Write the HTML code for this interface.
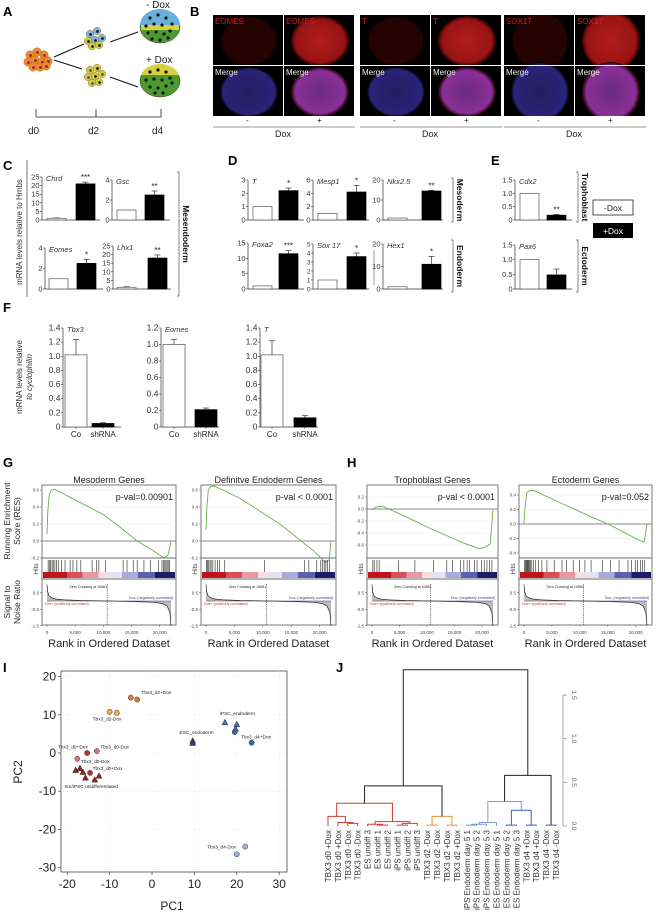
<!DOCTYPE html>
<html><head><meta charset="utf-8">
<style>
html,body{margin:0;padding:0;background:#fff;}
svg{display:block;font-family:"Liberation Sans",Arial,sans-serif;}
</style></head>
<body>
<svg id="fig" width="656" height="915" viewBox="0 0 656 915" xmlns="http://www.w3.org/2000/svg">
<defs>
<linearGradient id="rankbar" x1="0" x2="1" y1="0" y2="0">
<stop offset="0" stop-color="#c0141c"/><stop offset="0.18" stop-color="#c0141c"/>
<stop offset="0.18" stop-color="#d8505a"/><stop offset="0.3" stop-color="#d8505a"/>
<stop offset="0.3" stop-color="#e89aa0"/><stop offset="0.42" stop-color="#e89aa0"/>
<stop offset="0.42" stop-color="#f6dde0"/><stop offset="0.5" stop-color="#f6dde0"/>
<stop offset="0.5" stop-color="#e2e2f4"/><stop offset="0.6" stop-color="#e2e2f4"/>
<stop offset="0.6" stop-color="#a8acdc"/><stop offset="0.72" stop-color="#a8acdc"/>
<stop offset="0.72" stop-color="#5a62b0"/><stop offset="0.85" stop-color="#5a62b0"/>
<stop offset="0.85" stop-color="#1c1c68"/><stop offset="1" stop-color="#1c1c68"/>
</linearGradient>
<radialGradient id="redDim"><stop offset="0" stop-color="#2a0404"/><stop offset="0.9" stop-color="#240303"/><stop offset="1" stop-color="#000"/></radialGradient>
<radialGradient id="redBright"><stop offset="0" stop-color="#b01c1c"/><stop offset="0.85" stop-color="#981414"/><stop offset="1" stop-color="#300"/></radialGradient>
<radialGradient id="blueDim"><stop offset="0" stop-color="#221e60"/><stop offset="0.9" stop-color="#2a2278"/><stop offset="1" stop-color="#000"/></radialGradient>
<radialGradient id="purple"><stop offset="0" stop-color="#6a2a80"/><stop offset="0.85" stop-color="#8a3098"/><stop offset="1" stop-color="#200"/></radialGradient>
</defs>
</svg>
<script>
// ---------------- DATA ----------------
const chrdVals=[1,21], chrdErr=[1.2,22];
const gscVals=[1,2.5], gscErr=[1,2.9];
const eomesCVals=[1,2.5], eomesCErr=[1,2.9];
const lhx1Vals=[1,18], lhx1Err=[1.3,19.8];
const tDVals=[1,2.2], tDErr=[1,2.4];
const mesp1Vals=[1,4.2], mesp1Err=[1,5.2];
const nkxVals=[1,14.5], nkxErr=[1,14.8];
const foxa2Vals=[1,11.5], foxa2Err=[1,12.5];
const sox17Vals=[1,3.6], sox17Err=[1,4.0];
const hex1Vals=[1,11], hex1Err=[1,14.5];
const cdx2Vals=[1,0.18], cdx2Err=[1,0.21];
const pax6Vals=[1,0.48], pax6Err=[1,0.68];
const fCats=["Co","shRNA"];
const tbx3FVals=[1.02,0.05], tbx3FErr=[1.24,0.06];
const eomesFVals=[1.0,0.21], eomesFErr=[1.06,0.23];
const tFVals=[1.02,0.13], tFErr=[1.22,0.16];
const mesoRank=[0,150,400,800,1300,2500,6000,10000,13000,16000,18500,20800,21500,22000];
const mesoES=[0.08,0.35,0.55,0.6,0.61,0.57,0.45,0.31,0.16,0.0,-0.1,-0.2,-0.16,0.0];
const endoRank=[0,150,400,800,1300,3000,6000,10000,13000,16000,19000,21000,21700,22000];
const endoES=[0.13,0.4,0.6,0.64,0.65,0.6,0.5,0.33,0.2,0.04,-0.12,-0.25,-0.22,0.0];
const trophRank=[0,500,1200,1900,3000,6000,10000,14000,17000,19500,20500,21500,22000];
const trophES=[-0.02,0.02,0.04,0.045,0.0,-0.12,-0.3,-0.46,-0.58,-0.66,-0.64,-0.58,0.0];
const ectoRank=[0,150,500,1000,1800,4000,8000,12000,15000,18000,20500,21500,22000];
const ectoES=[0.0,0.2,0.43,0.46,0.46,0.38,0.24,0.1,0.0,-0.12,-0.22,-0.25,0.0];
const mesoHits=[200,400,600,900,1100,1400,1700,2000,2600,3200,4100,4600,5300,6000,8000,8800,9200,10400,13500,14200,15300,16000,17200,18400,19800,20400,20700,20900,21100,21300,21500,21700];
const endoHits=[100,250,400,700,900,1200,1600,2000,2400,3300,10300,17300,18100,19500,20200,20500,20800,21100,21400,21700];
const trophHits=[150,400,900,1300,4800,7800,11200,13600,14600,16100,16700,17300,17700,18600,19100,19900,20400,20900,21400,21800];
const ectoHits=[100,250,400,550,700,850,1000,1200,1400,1700,2100,2600,3200,4100,5400,6800,7600,8800,9900,10900,12000,14000,15500,17000,18600,19200,19900,20300,20800,21200,21600];
const sigRank=[0,100,300,800,1500,3000,6000,10681,15000,19000,20500,21300,21800,22000];
const sigVal=[1.0,0.6,0.35,0.2,0.12,0.07,0.03,0,-0.03,-0.08,-0.15,-0.3,-0.7,-1.5];
const pcaGroups=["d2+Dox","d2-Dox","iPSC_endo","ESC_endo","d4+Dox","d4-Dox","d0+Dox","d0-Dox","undiff"];
const pcaPC1=[[-5,-3.5],[-10,-8.3],[17.2,20,19.7],[9.6,9.6],[19.5,23.5],[22,20],[-15.3,-14.6],[-13,-17.6],[-18,-17,-16.3,-15.7,-13.5,-12.5]];
const pcaPC2=[[14.5,14],[10.8,10.5],[8,7.5,6.3],[3.2,2.6],[5.5,2.7],[-24.5,-26.5],[0,-5.2],[0.5,-1.5],[-4.5,-4,-5,-6.5,-7,-6]];
const pcaTicksX=[-20,-10,0,10,20,30];
const pcaTicksY=[20,10,0,-10,-20,-30];
const leafLabels=["TBX3 d0 +Dox","TBX3 d0 +Dox","TBX3 d0 -Dox","TBX3 d0 -Dox","ES undiff 3","ES undiff 1","ES undiff 2","iPS undiff 1","iPS undiff 2","iPS undiff 3","TBX3 d2 -Dox","TBX3 d2 -Dox","TBX3 d2 +Dox","TBX3 d2 +Dox","iPS Endoderm day 5 1","iPS Endoderm day 5 2","iPS Endoderm day 5 3","ES Endoderm day 5 1","ES Endoderm day 5 2","ES Endoderm day 5 3","TBX3 d4 +Dox","TBX3 d4 +Dox","TBX3 d4 -Dox","TBX3 d4 -Dox"];
// merges: negative = leaf -(i+1), non-negative = earlier merge id
const mergeLeft=[-3,-2,-1,-6,-5,-8,5,4,2,-11,-13,9,8,-15,13,14,-19,-21,16,15,-23,19,12];
const mergeRight=[-4,0,1,-7,3,-9,-10,6,7,-12,-14,10,11,-16,-17,-18,-20,-22,17,18,-24,20,21];
const mergeH=[0.03,0.04,0.11,0.01,0.02,0.01,0.03,0.05,0.26,0.01,0.01,0.11,0.46,0.01,0.02,0.04,0.01,0.01,0.18,0.28,0.01,0.58,1.79];
const mergeColor=["#d03a30","#d03a30","#d03a30","#d03a30","#d03a30","#d03a30","#d03a30","#d03a30","#d03a30","#e8903a","#e8903a","#e8903a","#222","#7b9bd6","#7b9bd6","#7b9bd6","#3a5fcd","#3a5fcd","#3a5fcd","#7b9bd6","#3a5fcd","#222","#222"];
const jTicks=[0,0.5,1.0,1.5];

// ---------------- HELPERS ----------------
const NS="http://www.w3.org/2000/svg";
const svg=document.getElementById("fig");
function mk(tag,a,name,parent){
  const el=document.createElementNS(NS,tag);
  for(const k in a) el.setAttribute(k,a[k]);
  
  
  (parent||svg).appendChild(el);
  return el;
}
function txt(x,y,s,size,name,extra){
  const a=Object.assign({x:x,y:y,"font-size":size,fill:"#222"},extra||{});
  const t=mk("text",a,name);
  t.textContent=s;
  return t;
}
function line(x1,y1,x2,y2,stroke,w,name,extra){
  return mk("line",Object.assign({x1:x1,y1:y1,x2:x2,y2:y2,stroke:stroke,"stroke-width":w},extra||{}),name);
}

[["A",3,16],["C",3,170],["D",228,165],["E",491,165],["F",3,312],["G",3,467],["H",347,467],["I",3,672],["J",336,672]].forEach(p=>{
  txt(p[1],p[2],p[0],13,"panel-label-"+p[0].toLowerCase(),{"font-weight":"bold",fill:"#000"});
});

// ---------------- PANEL A ----------------
function cell(cx,cy,r,fill,nuc){
  mk("circle",{cx:cx,cy:cy,r:r,fill:fill,stroke:"#a05a10","stroke-width":0.4},"cell");
  mk("circle",{cx:cx+0.5,cy:cy+0.5,r:r*0.35,fill:nuc},"cell-nucleus");
}
[[30,55],[37,52],[44,55],[28,62],[35,60],[42,62],[48,61],[33,67],[40,67],[46,66]].forEach(p=>cell(p[0],p[1],4.2,"#f08a2a","#8a3060"));
[[90,34,"#7cb8e0"],[97,31,"#7cb8e0"],[88,41,"#c8d040"],[95,40,"#7cb8e0"],[102,38,"#7cb8e0"],[92,46,"#c8d040"],[99,45,"#c8d040"]].forEach(p=>cell(p[0],p[1],3.8,p[2],"#111"));
[[90,70,"#c8d040"],[97,68,"#c8d040"],[88,77,"#c8d040"],[95,76,"#c8d040"],[102,74,"#c8d040"],[92,83,"#c8d040"],[99,82,"#c8d040"]].forEach(p=>cell(p[0],p[1],3.8,p[2],p[0]%2?"#111":"#5a40a0"));
line(54,57,84,44,"#111",1,"branch-line-top");
line(54,60,82,69,"#111",1,"branch-line-bottom");
line(110,42,138,32,"#111",1,"branch-line-d2-top");
line(110,77,138,87,"#111",1,"branch-line-d2-bottom");
mk("ellipse",{cx:160,cy:27,rx:20,ry:16,fill:"#4a9a30",stroke:"#333","stroke-width":0.5},"embryoid-minus-dox");
mk("path",{d:"M140,25 A20,16 0 0 1 180,25 Z",fill:"#6ab0dc"},"embryoid-minus-dox-blue");
mk("rect",{x:141,y:25,width:38,height:5,fill:"#d8d040"},"embryoid-minus-dox-yellow");
mk("ellipse",{cx:160,cy:81,rx:20,ry:16,fill:"#4a9a30",stroke:"#333","stroke-width":0.5},"embryoid-plus-dox");
mk("path",{d:"M141,75 A20,16 0 0 1 179,75 Z",fill:"#d8d040"},"embryoid-plus-dox-yellow");
[[150,18],[158,15],[166,18],[172,24],[146,26],[154,24],[162,25],[170,31],[148,33],[156,32],[164,34],[152,39],[160,40],[168,38],
 [150,72],[158,70],[166,72],[146,80],[154,79],[162,80],[170,78],[150,87],[158,88],[166,86],[172,83],[155,93],[163,93]].forEach(p=>mk("circle",{cx:p[0],cy:p[1],r:1.6,fill:"#111"},"nucleus-dot"));
txt(146,8,"- Dox",10,"label-minus-dox");
txt(146,63,"+ Dox",10,"label-plus-dox");
line(36,117,161,117,"#222",0.8,"timeline-axis");
[36,96,161].forEach(x=>line(x,109,x,117,"#222",0.8,"timeline-tick"));
txt(28,134,"d0",10,"timeline-label-d0");
txt(88,134,"d2",10,"timeline-label-d2");
txt(152,134,"d4",10,"timeline-label-d4");

// ---------------- PANEL B ----------------
const bGroups=[{x:213,lab:"EOMES"},{x:360,lab:"T"},{x:504,lab:"SOX17"}];
bGroups.forEach((g,gi)=>{
  for(let c=0;c<2;c++){
    for(let r=0;r<2;r++){
      const x=g.x+c*71, y=15+r*51;
      mk("rect",{x:x,y:y,width:70,height:50,fill:"#000"},"micrograph-panel");
      const fill = r===0 ? (c===0?"url(#redDim)":"url(#redBright)") : (c===0?"url(#blueDim)":"url(#purple)");
      mk("ellipse",{cx:x+36,cy:y+26,rx:29,ry:(gi===2?30:25),fill:fill},"micrograph-disc");
      mk("rect",{x:x,y:y-1,width:70,height:1,fill:"#fff"},"micrograph-gap");
      txt(x+2,y+9,r===0?g.lab:"Merge",8,"micrograph-label",{fill:r===0?"#d02020":"#eee"});
    }
  }
  mk("rect",{x:g.x-2,y:116,width:146,height:6,fill:"#fff"},"micrograph-mask");
  txt(g.x+33,123,"-",8,"dox-minus-sign");
  txt(g.x+104,123,"+",8,"dox-plus-sign");
  line(g.x,127,g.x+142,127,"#999",1,"dox-line");
  txt(g.x+62,137,"Dox",9,"dox-label");
});
mk("rect",{x:190,y:0,width:466,height:14,fill:"#fff"},"b-top-mask");
txt(190,16,"B",13,"panel-label-b",{"font-weight":"bold",fill:"#000"});

// ---------------- BAR CHARTS ----------------
function barChart(o){
  const yv=v=>o.y0-(v/o.max)*(o.y0-o.yt);
  line(o.ax,o.yt,o.ax,o.y0,"#333",0.7,o.id+"-y-axis");
  line(o.ax,o.y0,o.ax+o.span,o.y0,"#333",0.7,o.id+"-x-axis");
  o.ticks.forEach(t=>{
    line(o.ax-2,yv(t),o.ax,yv(t),"#333",0.6,o.id+"-y-tick");
    txt(o.ax-2.5,yv(t)+2.5,o.fmt?o.fmt(t):String(t),o.fs||7.5,o.id+"-y-tick-label",{"text-anchor":"end",fill:"#333"});
  });
  o.vals.forEach((v,i)=>{
    const bx=o.bx[i];
    const e=o.errs[i];
    if(e>v){
      line(bx+o.bw/2,yv(e),bx+o.bw/2,yv(v),"#333",0.7,o.id+"-error-bar");
      line(bx+o.bw/2-3,yv(e),bx+o.bw/2+3,yv(e),"#333",0.7,o.id+"-error-cap");
    }
    mk("rect",{x:bx,y:yv(v),width:o.bw,height:Math.max(0.8,o.y0-yv(v)),fill:i===0?"#fff":"#000",stroke:i===0?"#555":"#000","stroke-width":0.7},o.id+"-bar-"+(i===0?"minus-dox":"plus-dox"));
    if(o.cats){
      line(bx+o.bw/2,o.y0,bx+o.bw/2,o.y0+2,"#333",0.6,o.id+"-x-tick");
      txt(bx+o.bw/2,o.y0+10,o.cats[i],8,o.id+"-x-label",{"text-anchor":"middle"});
    }
  });
  txt(o.ax+4,o.yt+4,o.gene,o.gfs||7.5,o.id+"-gene-label",{"font-style":"italic",fill:"#333"});
  if(o.star) txt(o.bx[1]+o.bw/2,yv(o.errs[1])-2,o.star,8,o.id+"-significance",{"text-anchor":"middle"});
}
const cBW=19;
barChart({id:"chrd",gene:"Chrd",ax:42,span:58,y0:220,yt:177,max:25,ticks:[0,5,10,15,20,25],vals:chrdVals,errs:chrdErr,bx:[47,76],bw:cBW,star:"***"});
barChart({id:"gsc",gene:"Gsc",ax:112,span:58,y0:220,yt:180,max:4,ticks:[0,2,4],vals:gscVals,errs:gscErr,bx:[117,145],bw:cBW,star:"**"});
barChart({id:"eomes-c",gene:"Eomes",ax:45,span:58,y0:289,yt:248,max:4,ticks:[0,2,4],vals:eomesCVals,errs:eomesCErr,bx:[49,77],bw:cBW,star:"*"});
barChart({id:"lhx1",gene:"Lhx1",ax:113,span:58,y0:289,yt:246,max:25,ticks:[0,5,10,15,20,25],vals:lhx1Vals,errs:lhx1Err,bx:[117,148],bw:cBW,star:"**"});
barChart({id:"t-d",gene:"T",ax:248,span:56,y0:220,yt:180,max:3,ticks:[0,1,2,3],vals:tDVals,errs:tDErr,bx:[253,279],bw:cBW,star:"*"});
barChart({id:"mesp1",gene:"Mesp1",ax:313,span:56,y0:220,yt:180,max:6,ticks:[0,2,4,6],vals:mesp1Vals,errs:mesp1Err,bx:[318,347],bw:cBW,star:"*"});
barChart({id:"nkx25",gene:"Nkx2.5",ax:383,span:60,y0:220,yt:180,max:20,ticks:[0,10,20],vals:nkxVals,errs:nkxErr,bx:[388,422],bw:cBW,star:"**"});
barChart({id:"foxa2",gene:"Foxa2",ax:248,span:56,y0:289,yt:243,max:15,ticks:[0,5,10,15],vals:foxa2Vals,errs:foxa2Err,bx:[253,279],bw:cBW,star:"***"});
barChart({id:"sox17",gene:"Sox 17",ax:313,span:56,y0:289,yt:244,max:5,ticks:[0,1,2,3,4,5],vals:sox17Vals,errs:sox17Err,bx:[318,347],bw:cBW,star:"*",fs:6.5});
barChart({id:"hex1",gene:"Hex1",ax:383,span:60,y0:289,yt:244,max:20,ticks:[0,10,20],vals:hex1Vals,errs:hex1Err,bx:[388,422],bw:cBW,star:"*"});
line(374,250,374,285,"#555",0.6,"hex1-side-line");
const f1=t=>t.toFixed(1).replace(/^0\.0$/,"0");
barChart({id:"cdx2",gene:"Cdx2",ax:515,span:57,y0:220,yt:180,max:1.5,ticks:[0,0.5,1.0,1.5],fmt:f1,vals:cdx2Vals,errs:cdx2Err,bx:[520,547],bw:cBW,star:"**"});
barChart({id:"pax6",gene:"Pax6",ax:515,span:57,y0:289,yt:245,max:1.5,ticks:[0,0.5,1.0,1.5],fmt:f1,vals:pax6Vals,errs:pax6Err,bx:[520,547],bw:cBW});
const f2=t=>t===0?"0":t.toFixed(1);
barChart({id:"tbx3-f",gene:"Tbx3",ax:63,span:58,y0:427,yt:328,max:1.4,ticks:[0,0.2,0.4,0.6,0.8,1.0,1.2,1.4],fmt:f2,vals:tbx3FVals,errs:tbx3FErr,bx:[65,92],bw:22,cats:fCats,fs:8.5});
barChart({id:"eomes-f",gene:"Eomes",ax:161,span:58,y0:427,yt:328,max:1.2,ticks:[0,0.2,0.4,0.6,0.8,1.0,1.2],fmt:f2,vals:eomesFVals,errs:eomesFErr,bx:[163,195],bw:22,cats:fCats,fs:8.5});
barChart({id:"t-f",gene:"T",ax:260,span:58,y0:427,yt:328,max:1.4,ticks:[0,0.2,0.4,0.6,0.8,1.0,1.2,1.4],fmt:f2,vals:tFVals,errs:tFErr,bx:[261,294],bw:22,cats:fCats,fs:8.5});

function bracket(x,y1,y2,label,name){
  mk("path",{d:`M${x-2},${y1} H${x} V${y2} H${x-2}`,fill:"none",stroke:"#555","stroke-width":0.7},name+"-bracket");
  txt(0,0,label,8.5,name+"-label",{"font-weight":"bold",fill:"#111",transform:`translate(${x+4},${(y1+y2)/2}) rotate(90)`,"text-anchor":"middle"});
}
bracket(179,172,296,"Mesendoderm","mesendoderm");
bracket(453,178,222,"Mesoderm","mesoderm");
bracket(453,240,292,"Endoderm","endoderm");
bracket(578,172,222,"Trophoblast","trophoblast");
bracket(578,240,292,"Ectoderm","ectoderm");
line(27,160,27,297,"#555",0.8,"c-y-axis-line");
txt(0,0,"mRNA levels relative to Hmbs",8,"c-y-axis-title",{transform:"translate(22,232) rotate(-90)","text-anchor":"middle",fill:"#333"});
txt(0,0,"mRNA levels relative",8,"f-y-axis-title-1",{transform:"translate(22,377) rotate(-90)","text-anchor":"middle",fill:"#333"});
txt(0,0,"to cyclophilin",8,"f-y-axis-title-2",{transform:"translate(32,377) rotate(-90)","text-anchor":"middle",fill:"#333","font-style":"italic"});
mk("rect",{x:593,y:200,width:40,height:15,fill:"#fff",stroke:"#222","stroke-width":0.8},"legend-minus-dox-swatch");
txt(613,211,"-Dox",8.5,"legend-minus-dox-label",{"text-anchor":"middle"});
mk("rect",{x:593,y:223,width:40,height:15,fill:"#000"},"legend-plus-dox-swatch");
txt(613,234,"+Dox",8.5,"legend-plus-dox-label",{"text-anchor":"middle",fill:"#fff"});

// ---------------- GSEA ----------------
function gsea(o){
  const x0=o.x0, x1=o.x1, w=x1-x0;
  const xr=r=>x0+5+r/22000*(w-10);
  const ye=v=>o.z-v*o.k;
  txt((x0+x1)/2,483,o.title,9,o.id+"-title",{"text-anchor":"middle"});
  mk("rect",{x:x0,y:485,width:w,height:140,fill:"#fff",stroke:"#777","stroke-width":1},o.id+"-frame");
  o.ticks.forEach(t=>{
    line(x0,ye(t),x1,ye(t),"#eee",0.5,o.id+"-grid-h");
    line(x0-2,ye(t),x0,ye(t),"#555",0.5,o.id+"-es-tick");
    txt(x0-3,ye(t)+1.5,t.toFixed(1),4.5,o.id+"-es-tick-label",{"text-anchor":"end",fill:"#444"});
  });
  line(x0,ye(0),x1,ye(0),"#666",0.7,o.id+"-zero-line");
  let d="";
  o.rank.forEach((r,i)=>{ d+=(i?"L":"M")+xr(r).toFixed(1)+","+ye(o.es[i]).toFixed(1); });
  mk("path",{d:d,fill:"none",stroke:"#6ab04c","stroke-width":0.9},o.id+"-enrichment-curve");
  txt(x1-3,500,o.pval,9,o.id+"-pvalue",{"text-anchor":"end"});
  line(x0,558,x1,558,"#888",1.2,o.id+"-sep-1");
  o.hits.forEach(h=>line(xr(h),560,xr(h),572,"#222",0.6,o.id+"-hit"));
  mk("rect",{x:x0+1,y:572,width:w-2,height:6,fill:"url(#rankbar)"},o.id+"-rank-colorbar");
  line(x0,579,x1,579,"#888",1.2,o.id+"-sep-2");
  const ys=v=>601-v*16.5;
  let sd="M"+xr(0)+","+ys(0);
  sigRank.forEach((r,i)=>{ sd+="L"+xr(r).toFixed(1)+","+ys(sigVal[i]).toFixed(1); });
  sd+="L"+xr(22000).toFixed(1)+","+ys(0)+"Z";
  mk("path",{d:sd,fill:"#bbb",stroke:"none"},o.id+"-signal-fill");
  let sl="";
  sigRank.forEach((r,i)=>{ sl+=(i?"L":"M")+xr(r).toFixed(1)+","+ys(sigVal[i]).toFixed(1); });
  mk("path",{d:sl,fill:"none",stroke:"#222","stroke-width":0.7},o.id+"-signal-curve");
  line(xr(0),ys(0),xr(22000),ys(0),"#444",0.5,o.id+"-signal-zero");
  [0.5,-0.5,-1.5].forEach(t=>{
    txt(x0-3,ys(t)+1.5,t.toFixed(1),4.5,o.id+"-signal-tick-label",{"text-anchor":"end",fill:"#444"});
    line(x0-2,ys(t),x0,ys(t),"#555",0.5,o.id+"-signal-tick");
  });
  line(xr(10681),584,xr(10681),625,"#222",0.6,o.id+"-zero-crossing",{"stroke-dasharray":"1.2,1"});
  txt(xr(4000),588,"Zero Crossing at  10681",3.6,o.id+"-zero-crossing-label");
  txt(x1-3,599,"Dox- (negatively correlated)",3.6,o.id+"-neg-label",{"text-anchor":"end",fill:"#333399"});
  txt(x0+3,605,"Dox+ (positively correlated)",3.6,o.id+"-pos-label",{fill:"#cc3333"});
  [0,5000,10000,15000,20000].forEach(t=>{
    line(xr(t),625,xr(t),627,"#555",0.5,o.id+"-x-tick");
    txt(xr(t),634,t===0?"0":t.toLocaleString("en-US"),4.5,o.id+"-x-tick-label",{"text-anchor":"middle",fill:"#444"});
  });
  txt((x0+x1)/2,647,"Rank in Ordered Dataset",11,o.id+"-x-axis-title",{"text-anchor":"middle"});
  txt(0,0,"Hits",6.5,o.id+"-hits-label",{transform:`translate(${x0-4},569) rotate(-90)`,"text-anchor":"middle",fill:"#444"});
}
gsea({id:"mesoderm-gsea",title:"Mesoderm Genes",x0:42,x1:176,z:541,k:85,ticks:[0.6,0.4,0.2,0.0,-0.2],rank:mesoRank,es:mesoES,hits:mesoHits,pval:"p-val=0.00901"});
gsea({id:"endoderm-gsea",title:"Definitve Endoderm Genes",x0:201,x1:336,z:541,k:85,ticks:[0.6,0.4,0.2,0.0,-0.2],rank:endoRank,es:endoES,hits:endoHits,pval:"p-val < 0.0001"});
gsea({id:"trophoblast-gsea",title:"Trophoblast Genes",x0:367,x1:498,z:509,k:60,ticks:[0.2,0.0,-0.2,-0.4,-0.6],rank:trophRank,es:trophES,hits:trophHits,pval:"p-val < 0.0001"});
gsea({id:"ectoderm-gsea",title:"Ectoderm Genes",x0:519,x1:652,z:524,k:72.5,ticks:[0.4,0.2,0.0,-0.2,-0.4],rank:ectoRank,es:ectoES,hits:ectoHits,pval:"p-val=0.052"});
txt(0,0,"Running Enrichment",8.5,"g-es-axis-title-1",{transform:"translate(10,521) rotate(-90)","text-anchor":"middle"});
txt(0,0,"Score (RES)",8.5,"g-es-axis-title-2",{transform:"translate(20,521) rotate(-90)","text-anchor":"middle"});
txt(0,0,"Signal to",8.5,"g-snr-axis-title-1",{transform:"translate(10,602) rotate(-90)","text-anchor":"middle"});
txt(0,0,"Noise Ratio",8.5,"g-snr-axis-title-2",{transform:"translate(20,602) rotate(-90)","text-anchor":"middle"});

// ---------------- PCA ----------------
const px=v=>152+v*4.24;
const py=v=>753-v*3.82;
mk("rect",{x:61,y:671,width:226,height:201,fill:"#fff",stroke:"#444","stroke-width":0.8},"pca-plot-frame");
pcaTicksX.forEach(t=>{
  line(px(t),671,px(t),872,"#e8e8e8",0.5,"pca-grid-x",{"stroke-dasharray":"1,1"});
  line(px(t),872,px(t),875,"#444",0.7,"pca-x-tick");
  txt(px(t),888,String(t),12,"pca-x-tick-label",{"text-anchor":"middle"});
});
pcaTicksY.forEach(t=>{
  line(61,py(t),287,py(t),"#e8e8e8",0.5,"pca-grid-y",{"stroke-dasharray":"1,1"});
  line(58,py(t),61,py(t),"#444",0.7,"pca-y-tick");
  txt(56,py(t)+4,String(t),12,"pca-y-tick-label",{"text-anchor":"end"});
});
txt(172,910,"PC1",12,"pca-x-axis-title",{"text-anchor":"middle"});
txt(0,0,"PC2",12,"pca-y-axis-title",{transform:"translate(22,772) rotate(-90)","text-anchor":"middle"});
const pcaColors=["#e07b30","#e8b040","#4a6fb5","#2a3f70","#3f63b0","#9ab0dd","#c0302a","#e0707a","#a01818"];
const pcaShape=["c","c","t","t","c","c","c","c","t"];
pcaGroups.forEach((g,gi)=>{
  pcaPC1[gi].forEach((v,i)=>{
    const x=px(v), y=py(pcaPC2[gi][i]);
    if(pcaShape[gi]==="c") mk("circle",{cx:x,cy:y,r:2.6,fill:pcaColors[gi],stroke:"#333","stroke-width":0.5},"pca-point-"+g);
    else mk("path",{d:`M${x},${y-3.2}L${x+3},${y+2.4}L${x-3},${y+2.4}Z`,fill:pcaColors[gi],stroke:"#333","stroke-width":0.5},"pca-point-"+g);
  });
});
[["Tbx3_d2+Dox",-2.5,15.5],["Tbx3_d2-Dox",-14,8.5],["iPSC_endoderm",16,10],["ESC_endoderm",6.5,5],["Tbx3_d4+Dox",21,3.8],["Tbx3_d4-Dox",13,-25],["Tbx3_d0+Dox",-22.2,1.2],["Tbx3_d0-Dox",-12.2,1.2],["Tbx3_d0-Dox",-16.8,-2.6],["Tbx3_d0+Dox",-14,-4.4],["ES/iPSC undifferentiated",-20.5,-9.2]].forEach(l=>{
  txt(px(l[1]),py(l[2]),l[0],4.8,"pca-point-label",{fill:"#222"});
});

// ---------------- DENDROGRAM ----------------
const lx=i=>328+i*(556-328)/23;
const hy=h=>826-h*87.3;
const nodeX=[], nodeH=[];
function pos(idx){ return idx<0 ? [lx(-idx-1),0] : [nodeX[idx],nodeH[idx]]; }
mergeLeft.forEach((l,m)=>{
  const a=pos(l), b=pos(mergeRight[m]), h=mergeH[m];
  mk("path",{d:`M${a[0]},${hy(a[1])}V${hy(h)}H${b[0]}V${hy(b[1])}`,fill:"none",stroke:mergeColor[m],"stroke-width":1},"dendrogram-branch");
  nodeX[m]=(a[0]+b[0])/2; nodeH[m]=h;
});
leafLabels.forEach((s,i)=>{
  txt(0,0,s,8,"dendrogram-leaf-label",{transform:`translate(${lx(i)+3},830) rotate(-90)`,"text-anchor":"end",fill:"#333"});
});
line(563,hy(0),563,hy(1.5),"#888",0.7,"dendrogram-scale-axis");
jTicks.forEach(t=>{
  line(563,hy(t),567,hy(t),"#888",0.7,"dendrogram-scale-tick");
  txt(0,0,t.toFixed(1),6.5,"dendrogram-scale-label",{transform:`translate(572,${hy(t)}) rotate(90)`,"text-anchor":"middle",fill:"#666"});
});
</script>
</body></html>
